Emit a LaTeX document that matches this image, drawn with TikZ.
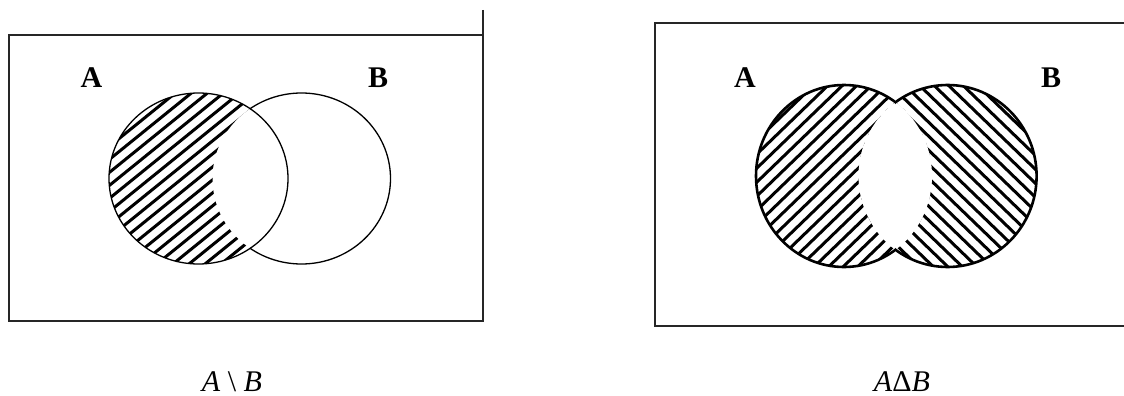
\documentclass[tikz,border=0pt]{standalone}
\usepackage{fontspec}
\setmainfont{Liberation Serif}
\begin{document}
\begin{tikzpicture}[x=1pt,y=-1pt,
  frame/.style={line width=1.6pt, draw=black!85},
  lbl/.style={font=\fontsize{30}{36}\selectfont\bfseries, anchor=base, inner sep=0pt},
  captext/.style={font=\fontsize{30}{36}\selectfont, anchor=base, inner sep=0pt},
  hatch/.style={line width=3pt},
  thinline/.style={line width=1.3pt},
  thickline/.style={line width=2.6pt}]
\useasboundingbox (0,0) rectangle (1124,396);

% ---------- left panel: A \ B ----------
\draw[frame] (483,10) -- (483,321) -- (9,321) -- (9,35) -- (483,35);
\begin{scope}
  \clip (198.5,178.5) ellipse [x radius=89.5, y radius=85.5];
  \foreach \c in {170,183,...,520} \draw[hatch] (0,\c) -- ++(-39:600);
  \fill[white] (301.5,178.5) ellipse [x radius=89, y radius=85.5];
\end{scope}
\draw[thinline] (198.5,178.5) ellipse [x radius=89.5, y radius=85.5];
\begin{scope}
  \clip (250,0) rectangle (500,396);
  \draw[thinline] (301.5,178.5) ellipse [x radius=89, y radius=85.5];
\end{scope}
\node[lbl] (la1) at (91.5,87) {A};
\node[lbl] (lb1) at (378,87) {B};
\node[captext] (c1) at (232,391) {\textit{A} \textbackslash\ \textit{B}};

% ---------- right panel: A Delta B ----------
\draw[frame] (1124,23) -- (655,23) -- (655,326) -- (1124,326);
\begin{scope}
  \clip (844,176) ellipse [x radius=88, y radius=91];
  \foreach \c in {125,139,...,510} \draw[hatch] (700,\c) -- ++(-44:450);
  \fill[white] (947.6,176) ellipse [x radius=89, y radius=91];
\end{scope}
\begin{scope}
  \clip (947.6,176) ellipse [x radius=89, y radius=91];
  \foreach \c in {-170,-156,...,240} \draw[hatch] (800,\c) -- ++(44:450);
  \fill[white] (844,176) ellipse [x radius=88, y radius=91];
\end{scope}
\begin{scope}
  \clip (700,0) rectangle (895.8,396);
  \draw[thickline] (844,176) ellipse [x radius=88, y radius=91];
\end{scope}
\begin{scope}
  \clip (895.8,0) rectangle (1100,396);
  \draw[thickline] (947.6,176) ellipse [x radius=89, y radius=91];
\end{scope}
\node[lbl] (la2) at (745,88) {A};
\node[lbl] (lb2) at (1051,88) {B};
\node[captext] (c2) at (902,391) {\textit{A}Δ\textit{B}};
\end{tikzpicture}
\end{document}
